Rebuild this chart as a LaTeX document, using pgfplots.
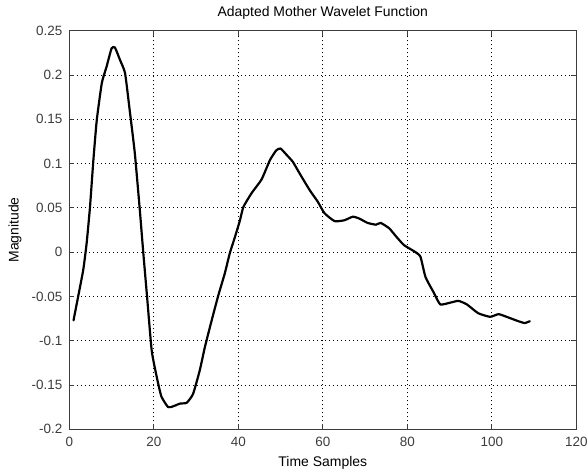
\documentclass[border=0pt]{standalone}
\usepackage{pgfplots}
\pgfplotsset{compat=1.18}
\usepackage{fontspec}
\setmainfont{Liberation Sans}
\definecolor{axgray}{RGB}{60,60,60}
\begin{document}
\begin{tikzpicture}[x=1bp,y=1bp]
\begin{axis}[
  at={(0,0)}, anchor=south west,
  scale only axis, width=507bp, height=398.6bp,
  xmin=0, xmax=120, ymin=-0.2, ymax=0.25,
  xtick={0,20,...,120},
  ytick={-0.2,-0.15,-0.1,-0.05,0,0.05,0.1,0.15,0.2,0.25},
  yticklabels={-0.2,-0.15,-0.1,-0.05,0,0.05,0.1,0.15,0.2,0.25},
  xticklabels={0,20,40,60,80,100,120},
  ticklabel style={font=\fontsize{13.5}{15}\selectfont, text=axgray},
  yticklabel style={xshift=-3.5bp},
  xticklabel style={yshift=-4.5bp},
  title style={font=\fontsize{14}{15}\selectfont, at={(axis description cs:0.5,1.029)}, anchor=center},
  xlabel style={font=\fontsize{14}{15}\selectfont, at={(axis description cs:0.5,-0.084)}, anchor=center},
  ylabel style={font=\fontsize{14}{15}\selectfont, at={(axis description cs:-0.107,0.5)}, anchor=center},
  title={Adapted Mother Wavelet Function},
  xlabel={Time Samples},
  ylabel={Magnitude},
  tick align=inside, major tick length=5bp,
  grid=major, grid style={black, dash pattern=on 0.9bp off 3.1bp, line width=0.9bp},
  axis line style={axgray, line width=0.9pt},
  tick style={axgray, line width=0.9pt},
]
\addplot[black, line width=2.2pt, line join=round, line cap=round, smooth, tension=0.3] coordinates {
(1,-0.077)(2.1,-0.050)(3.3,-0.020)(4.1,0.010)(4.9,0.051)(5.7,0.104)
(6.5,0.149)(7.7,0.191)(8.8,0.209)(10,0.230)(10.8,0.231)(12.0,0.217)
(13.2,0.202)(14.3,0.160)(15.5,0.112)(16.7,0.047)(17.5,0.0)(18.4,-0.050)
(19.5,-0.111)(20.7,-0.141)(21.8,-0.163)(23.4,-0.175)(24.6,-0.174)
(26.2,-0.171)(27.8,-0.170)(29.3,-0.160)(30.9,-0.133)(32.1,-0.107)
(33.7,-0.077)(35.2,-0.050)(36.8,-0.024)(38.0,-0.001)(39.2,0.017)
(40.4,0.036)(41.2,0.051)(43.2,0.067)(45.5,0.082)(47.5,0.104)(49.0,0.115)
(50.0,0.117)(51.4,0.110)(52.9,0.102)(54.5,0.089)(56.9,0.070)(58.8,0.057)
(60.4,0.044)(62.8,0.035)(65.1,0.036)(67.1,0.040)(68.6,0.038)(70.6,0.033)
(72.6,0.031)(73.7,0.033)(75.7,0.027)(77.3,0.018)(79.2,0.008)(81.6,0.001)
(83.1,-0.005)(84.3,-0.028)(86.3,-0.046)(87.8,-0.059)(90.2,-0.057)
(92.1,-0.055)(94.1,-0.059)(96.8,-0.069)(99.6,-0.073)(101.6,-0.070)
(103.5,-0.073)(106.3,-0.078)(107.8,-0.080)(109.0,-0.078)
};
\end{axis}
\pgfresetboundingbox
\path (-69.3bp,-42.7bp) rectangle (517.7bp,429.3bp);
\end{tikzpicture}
\end{document}
